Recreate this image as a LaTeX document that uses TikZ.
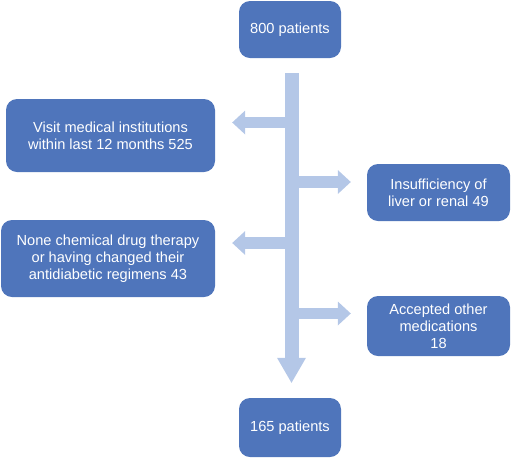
\documentclass[tikz,border=0pt]{standalone}
\usepackage{fontspec}
\setmainfont{Liberation Sans}
\usepackage{xcolor}
\usepackage{tikz}
\usetikzlibrary{arrows.meta}

\definecolor{boxblue}{RGB}{79,117,187}
\definecolor{flowblue}{RGB}{180,199,231}

\begin{document}
\begin{tikzpicture}[x=1pt, y=-1pt,
    box/.style={rectangle, rounded corners=11pt, fill=boxblue, text=white, align=center, inner sep=0pt, font=\fontsize{14.6}{17}\selectfont},
    trunk/.style={draw=flowblue, line width=14pt, -{Triangle[width=29pt,length=25pt,line width=0pt 0 0]}, shorten <=15pt, shorten >=15pt},
    branch/.style={draw=flowblue, line width=11.5pt, -{Triangle[width=24pt,length=13pt,line width=0pt 0 0]}}]
    \useasboundingbox (0,0) rectangle (512,459);

    % Main components
    \node[box, minimum width=102pt, minimum height=57pt] (total) at (290,29.5) {800 patients};
    \node[box, minimum width=209pt, minimum height=73pt] (visit) at (110.5,135.5) {Visit medical institutions\\within last 12 months 525};
    \node[box, minimum width=143pt, minimum height=57pt] (organ) at (438.5,192.5) {Insufficiency of\\liver or renal 49};
    \node[box, minimum width=214pt, minimum height=77pt] (nodrug) at (108,258.5) {None chemical drug therapy\\or having changed their\\antidiabetic regimens 43};
    \node[box, minimum width=143pt, minimum height=60pt] (othermed) at (438.5,326) {Accepted other\\medications\\18};
    \node[box, minimum width=102pt, minimum height=59pt] (final) at (290,427.5) {165 patients};

    % Branch points on the main flow
    \coordinate (j1) at (291.5,122.5);
    \coordinate (j2) at (291.5,182);
    \coordinate (j3) at (291.5,243);
    \coordinate (j4) at (291.5,313.5);

    % Exclusions
    \draw[branch, shorten >=17pt] (j1) -- (j1 -| visit.east);
    \draw[branch, shorten >=16pt] (j2) -- (j2 -| organ.west);
    \draw[branch, shorten >=17pt] (j3) -- (j3 -| nodrug.east);
    \draw[branch, shorten >=16pt] (j4) -- (j4 -| othermed.west);

    % Main flow
    \draw[trunk] (total.south -| j1) -- (final.north -| j1);
\end{tikzpicture}
\end{document}
